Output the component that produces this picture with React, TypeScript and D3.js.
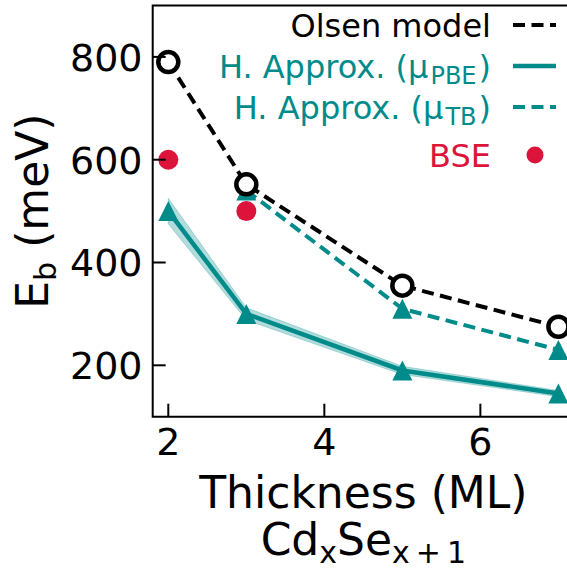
import React, { useEffect, useRef } from 'react'
import * as d3 from 'd3'

// thickness in monolayers
const thickness = [2, 3, 5, 7]
const olsen = [790, 552, 355, 275]
const pbe = [500, 300, 190, 145]
const pbeErr = [25, 12, 8, 6]
const tbThickness = [3, 5, 7]
const tb = [540, 310, 230]
const bseThickness = [2, 3]
const bse = [600, 500]

const xTicks = [2, 4, 6]
const yTicks = [200, 400, 600, 800]

const TEAL = '#008b8b'
const RED = '#dc143c'
const FONT = 'DejaVu Sans'

function App() {
  const d3Container = useRef<SVGSVGElement | null>(null)

  useEffect(() => {
    if (!d3Container.current) return
    const svg = d3.select(d3Container.current)
    svg.selectAll('*').remove()

    const left = 152.7, right = 574, top = 5.5, bottom = 416.7
    const x = d3.scaleLinear().domain([1.8, 7.2]).range([left, right])
    const y = d3.scaleLinear().domain([100, 900]).range([bottom, top])

    const plot = svg.append('g')

    // shaded band around PBE curve
    const band = d3.area<number>()
      .x((d, i) => x(thickness[i]))
      .y0((d, i) => y(d - pbeErr[i]))
      .y1((d, i) => y(d + pbeErr[i]))
    plot.append('path')
      .attr('d', band(pbe))
      .attr('fill', TEAL)
      .attr('fill-opacity', 0.3)
      .attr('stroke', TEAL)
      .attr('stroke-opacity', 0.25)
      .attr('stroke-width', 1)

    const line = d3.line<[number, number]>()
      .x(d => x(d[0]))
      .y(d => y(d[1]))

    const tri = (s: number) => `M0,${-s}L${s},${s}L${-s},${s}Z`

    // PBE solid
    plot.append('path')
      .attr('d', line(thickness.map((t, i) => [t, pbe[i]])))
      .attr('fill', 'none')
      .attr('stroke', TEAL)
      .attr('stroke-width', 4.5)
    plot.selectAll('.pbe')
      .data(pbe)
      .join('path')
        .attr('transform', (d, i) => `translate(${x(thickness[i])},${y(d)})`)
        .attr('d', tri(10))
        .attr('fill', TEAL)

    // TB dashed
    plot.append('path')
      .attr('d', line(tbThickness.map((t, i) => [t, tb[i]])))
      .attr('fill', 'none')
      .attr('stroke', TEAL)
      .attr('stroke-width', 4)
      .attr('stroke-dasharray', '12,6.5')
    plot.selectAll('.tb')
      .data(tb)
      .join('path')
        .attr('transform', (d, i) => `translate(${x(tbThickness[i])},${y(d)})`)
        .attr('d', tri(10))
        .attr('fill', TEAL)

    // Olsen model
    plot.append('path')
      .attr('d', line(thickness.map((t, i) => [t, olsen[i]])))
      .attr('fill', 'none')
      .attr('stroke', 'black')
      .attr('stroke-width', 4)
      .attr('stroke-dasharray', '12,6.5')
    plot.selectAll('.olsen')
      .data(olsen)
      .join('circle')
        .attr('cx', (d, i) => x(thickness[i]))
        .attr('cy', d => y(d))
        .attr('r', 10)
        .attr('fill', 'white')
        .attr('stroke', 'black')
        .attr('stroke-width', 4.5)

    // BSE
    plot.selectAll('.bse')
      .data(bse)
      .join('circle')
        .attr('cx', (d, i) => x(bseThickness[i]))
        .attr('cy', d => y(d))
        .attr('r', 10)
        .attr('fill', RED)

    // spines
    svg.append('path')
      .attr('d', `M${right},${top}H${left}V${bottom}H${right}`)
      .attr('fill', 'none')
      .attr('stroke', 'black')
      .attr('stroke-width', 2)

    // ticks (inward)
    xTicks.forEach(t => {
      svg.append('line')
        .attr('x1', x(t)).attr('x2', x(t))
        .attr('y1', bottom).attr('y2', bottom - 13)
        .attr('stroke', 'black').attr('stroke-width', 2)
      svg.append('text')
        .attr('x', x(t)).attr('y', 454.5)
        .attr('text-anchor', 'middle')
        .attr('font-family', FONT).attr('font-size', 38)
        .text(t)
    })
    yTicks.forEach(t => {
      svg.append('line')
        .attr('x1', left).attr('x2', left + 13)
        .attr('y1', y(t)).attr('y2', y(t))
        .attr('stroke', 'black').attr('stroke-width', 2)
      svg.append('text')
        .attr('x', 142.5).attr('y', y(t) + 0.3645 * 38)
        .attr('text-anchor', 'end')
        .attr('font-family', FONT).attr('font-size', 38)
        .text(t)
    })

    // axis labels
    svg.append('text')
      .attr('x', (left + right) / 2).attr('y', 508)
      .attr('text-anchor', 'middle')
      .attr('font-family', FONT).attr('font-size', 44)
      .text('Thickness (ML)')

    const xl2 = svg.append('text')
      .attr('x', (left + right) / 2).attr('y', 555)
      .attr('text-anchor', 'middle')
      .attr('font-family', FONT).attr('font-size', 44)
    xl2.append('tspan').text('Cd')
    xl2.append('tspan').attr('font-size', 30).attr('dy', 8).text('x')
    xl2.append('tspan').attr('dy', -8).text('Se')
    xl2.append('tspan').attr('font-size', 30).attr('dy', 8).text('x\u2009+\u20091')

    const yl = svg.append('text')
      .attr('transform', `translate(48,${(top + bottom) / 2}) rotate(-90)`)
      .attr('text-anchor', 'middle')
      .attr('font-family', FONT).attr('font-size', 44)
    yl.append('tspan').text('E')
    yl.append('tspan').attr('font-size', 30).attr('dy', 8).text('b')
    yl.append('tspan').attr('dy', -8).text(' (meV)')

    // legend
    const legend = svg.append('g')
    const rows = [
      { label: 'Olsen model', sub: '', color: 'black', kind: 'dash', hy: 25 },
      { label: 'H. Approx. (μ', sub: 'PBE', color: TEAL, kind: 'solid', hy: 66 },
      { label: 'H. Approx. (μ', sub: 'TB', color: TEAL, kind: 'dash', hy: 107 },
      { label: 'BSE', sub: '', color: RED, kind: 'dot', hy: 155 }
    ]
    rows.forEach(r => {
      const t = legend.append('text')
        .attr('x', 491).attr('y', r.hy + 11.5)
        .attr('text-anchor', 'end')
        .attr('font-family', FONT).attr('font-size', 32)
        .attr('fill', r.color)
      t.append('tspan').text(r.label)
      if (r.sub) {
        t.append('tspan').attr('font-size', 24).attr('dx', 2).attr('dy', 6).text(r.sub)
        t.append('tspan').attr('dx', 2).attr('dy', -6).text(')')
      }
      if (r.kind === 'dot') {
        legend.append('circle')
          .attr('cx', 535).attr('cy', r.hy).attr('r', 8.5)
          .attr('fill', r.color)
      } else {
        legend.append('line')
          .attr('x1', 513).attr('x2', 556)
          .attr('y1', r.hy).attr('y2', r.hy)
          .attr('stroke', r.color)
          .attr('stroke-width', r.kind === 'solid' ? 4.5 : 4)
          .attr('stroke-dasharray', r.kind === 'dash' ? '12,6.5' : null)
      }
    })
  }, [])

  return (
    <svg
      ref={d3Container}
      width={567}
      height={571}
      style={{ position: 'absolute', left: 0, top: 0, background: 'white' }}
    />
  )
}

export default App
